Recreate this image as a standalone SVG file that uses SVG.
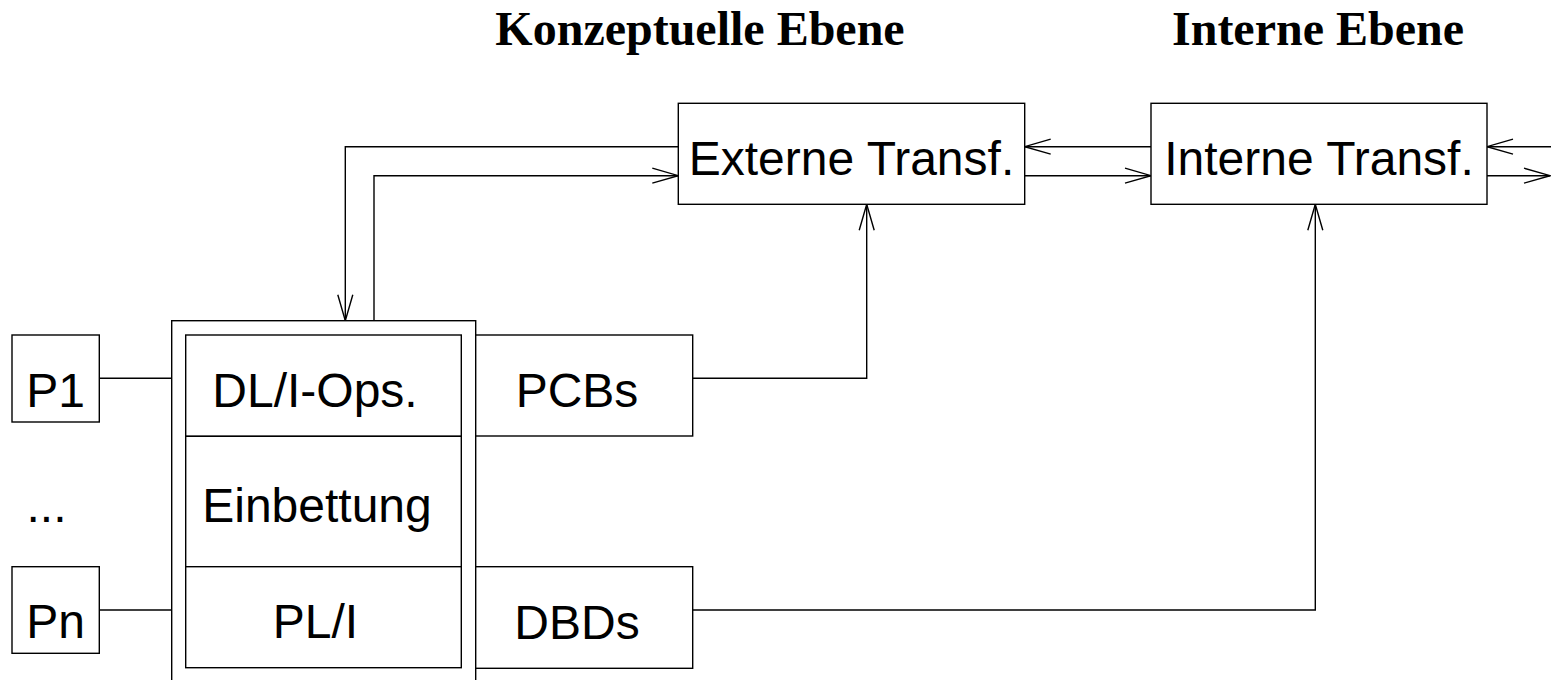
<svg xmlns="http://www.w3.org/2000/svg" width="1551" height="680" viewBox="0 0 1551 680">
<style>
.box{fill:#fff;stroke:#000;stroke-width:1.4}
.ln{fill:none;stroke:#000;stroke-width:1.4}
.t{font-family:"Liberation Sans",Arial,sans-serif;font-size:48px;fill:#000;text-anchor:middle}
.h{font-family:"Liberation Serif","Times New Roman",serif;font-size:48px;font-weight:bold;fill:#000;text-anchor:middle}
</style>
<defs>
<marker id="ah" markerUnits="userSpaceOnUse" markerWidth="30" markerHeight="20" viewBox="-28 -10 30 20" refX="0" refY="0" orient="auto" overflow="visible">
<path d="M-26,-7.5 L0,0 L-26,7.5" fill="none" stroke="#000" stroke-width="1.4"/>
</marker>
</defs>
<rect width="1551" height="680" fill="#fff"/>
<g id="titles">
<text class="h" x="700" y="45">Konzeptuelle Ebene</text>
<text class="h" x="1318" y="45">Interne Ebene</text>
</g>
<g id="connectors">
<path class="ln" d="M678.3,146.7 H345.3 V320.7" marker-end="url(#ah)"/>
<path class="ln" d="M374,320.7 V175.7 H678.3" marker-end="url(#ah)"/>
<path class="ln" d="M1151,146.7 H1024.7" marker-end="url(#ah)"/>
<path class="ln" d="M1024.7,175.7 H1151" marker-end="url(#ah)"/>
<path class="ln" d="M1560,146.7 H1487" marker-end="url(#ah)"/>
<path class="ln" d="M1487,175.7 H1550" marker-end="url(#ah)"/>
<path class="ln" d="M692.7,378.3 H866.7 V204.3" marker-end="url(#ah)"/>
<path class="ln" d="M692.7,610 H1315.3 V204.3" marker-end="url(#ah)"/>
<path class="ln" d="M99.3,378.3 H171.7"/>
<path class="ln" d="M99.3,610 H171.7"/>
</g>
<g id="externe">
<rect class="box" x="678.3" y="103.3" width="346.4" height="101"/>
<text class="t" x="851.5" y="175">Externe Transf.</text>
</g>
<g id="interne">
<rect class="box" x="1151" y="103.3" width="336" height="101"/>
<text class="t" x="1319" y="175">Interne Transf.</text>
</g>
<g id="p1">
<rect class="box" x="12" y="335" width="87.3" height="87"/>
<text class="t" x="55.7" y="407.3">P1</text>
</g>
<g id="dots">
<text class="t" x="46.5" y="521.7">...</text>
</g>
<g id="pn">
<rect class="box" x="12" y="566.7" width="87.3" height="86.6"/>
<text class="t" x="55.7" y="638.3">Pn</text>
</g>
<g id="system">
<rect class="box" x="171.7" y="320.7" width="304" height="380"/>
</g>
<g id="dlops">
<rect class="box" x="185.7" y="335" width="275.6" height="101.3"/>
<text class="t" x="315" y="407.3">DL/I-Ops.</text>
</g>
<g id="einbettung">
<rect class="box" x="185.7" y="436.3" width="275.6" height="130.4"/>
<text class="t" x="317" y="522.3">Einbettung</text>
</g>
<g id="pli">
<rect class="box" x="185.7" y="566.7" width="275.6" height="101"/>
<text class="t" x="315.5" y="638.3">PL/I</text>
</g>
<g id="pcbs">
<rect class="box" x="475.7" y="335" width="217" height="101"/>
<text class="t" x="577" y="407.3">PCBs</text>
</g>
<g id="dbds">
<rect class="box" x="475.7" y="566.7" width="217" height="101.6"/>
<text class="t" x="577" y="639">DBDs</text>
</g>
</svg>
